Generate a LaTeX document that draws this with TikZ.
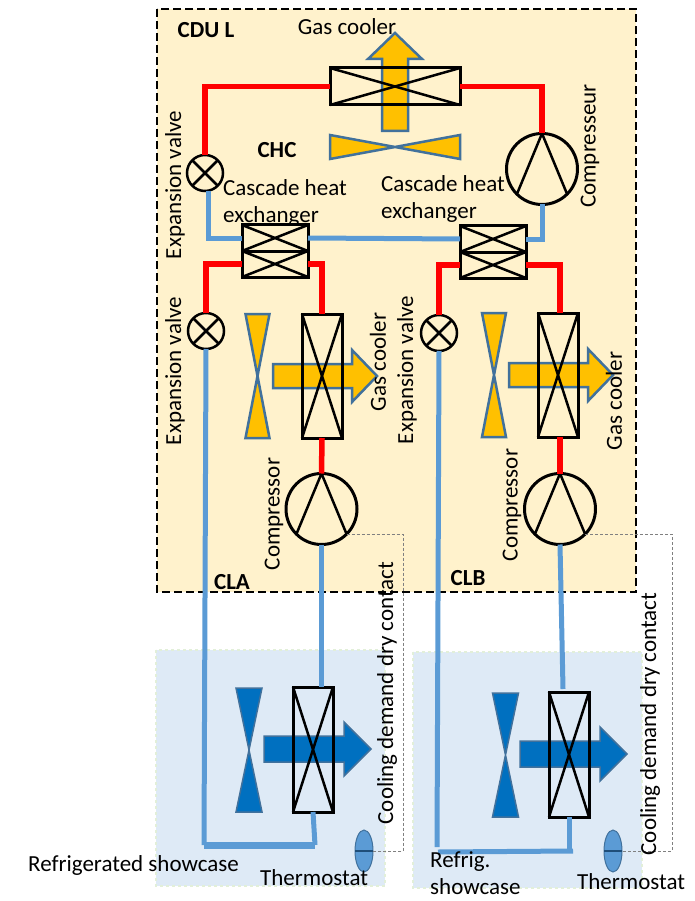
\documentclass[tikz,border=0pt]{standalone}
\usepackage{fontspec}
\setmainfont{Carlito}
\usetikzlibrary{shapes.geometric}
\definecolor{cduback}{HTML}{FFF2CC}
\definecolor{caseback}{HTML}{DEEAF6}
\definecolor{caseline}{HTML}{E2EFD9}
\definecolor{pipeblue}{HTML}{5B9BD5}
\definecolor{hotfill}{HTML}{FFC000}
\definecolor{coldfill}{HTML}{0070C0}
\definecolor{edgeblue}{HTML}{41719C}
\definecolor{thermoline}{HTML}{1F4E79}
\tikzset{
  hotpipe/.style={red,line width=5.5pt},
  coldpipe/.style={pipeblue,line width=5pt},
  signal/.style={gray,densely dashed,line width=0.6pt},
  hxbox/.style={draw=black,line width=3pt,inner sep=0pt,outer sep=0pt},
  rotor/.style={circle,draw=black,line width=3pt,inner sep=0pt,outer sep=0pt,minimum size=71pt},
  valve/.style={circle,draw=black,line width=2.5pt,inner sep=0pt,outer sep=0pt,minimum size=36pt},
  thermo/.style={ellipse,draw=edgeblue,fill=pipeblue,line width=1pt,inner sep=0pt,outer sep=0pt,minimum width=18pt,minimum height=42pt},
  lbl/.style={font=\fontsize{23}{25}\selectfont,inner sep=0pt},
  bold lbl/.style={lbl,font=\fontsize{23}{25}\selectfont\bfseries}
}
\begin{document}
\begin{tikzpicture}[x=1pt,y=-1pt]
    \useasboundingbox (0,0) rectangle (694,901);
    % enclosures
    \fill[cduback] (157,9) rectangle (636,592);
    \draw[black,dash pattern=on 8pt off 4pt,line width=2.5pt] (157,9) rectangle (636,592);
    \foreach \x/\y in {156/650,413/652}
        \draw[caseline,dashed,line width=1.5pt,fill=caseback] (\x,\y) rectangle ++(229,236);
    % fans and air flow, hot side
    \foreach \x/\y in {257.5/376,494/375}
        \filldraw[edgeblue,line width=2.5pt,fill=hotfill] (\x-12,\y-62) -- (\x+12,\y-62) -- (\x-12,\y+62) -- (\x+12,\y+62) -- cycle;
    \foreach \x/\y in {273/376,509/375}
        \filldraw[edgeblue,line width=2.5pt,fill=hotfill] (\x,\y-12) -- ++(79,0) -- ++(0,-14) -- ++(25,26) -- ++(-25,26) -- ++(0,-14) -- ++(-79,0) -- cycle;
    \filldraw[edgeblue,line width=2.5pt,fill=hotfill] (330,135) -- (460,159) -- (460,135) -- (330,159) -- cycle;
    \filldraw[edgeblue,line width=2.5pt,fill=hotfill] (382,131) -- (382,59) -- (368,59) -- (395,33) -- (422,59) -- (408,59) -- (408,131) -- cycle;
    % fans and air flow, cold side
    \foreach \x/\y in {249/750,505.5/755}
        \filldraw[edgeblue,line width=1.5pt,fill=coldfill] (\x-13,\y-62) -- (\x+13,\y-62) -- (\x-13,\y+62) -- (\x+13,\y+62) -- cycle;
    \foreach \x/\y in {264/749,520/754}
        \filldraw[edgeblue,line width=1.5pt,fill=coldfill] (\x,\y-13) -- ++(80,0) -- ++(0,-14) -- ++(27,27) -- ++(-27,27) -- ++(0,-14) -- ++(-80,0) -- cycle;
    % heat exchangers
    \node[hxbox,minimum width=130pt,minimum height=37pt] (gcT) at (395,86.5) {};
    \node[hxbox,minimum width=66pt,minimum height=26pt] (chxLa) at (275,238) {};
    \node[hxbox,minimum width=66pt,minimum height=26pt] (chxLb) at (275,264) {};
    \node[hxbox,minimum width=66pt,minimum height=26pt] (chxRa) at (493,239) {};
    \node[hxbox,minimum width=66pt,minimum height=26pt] (chxRb) at (493,265) {};
    \node[hxbox,minimum width=40pt,minimum height=124pt] (gcA) at (322,376) {};
    \node[hxbox,minimum width=40pt,minimum height=124pt] (gcB) at (558,375) {};
    \node[hxbox,minimum width=40pt,minimum height=125pt] (scA) at (313,749.5) {};
    \node[hxbox,minimum width=40pt,minimum height=125pt] (scB) at (569,754.5) {};
    \foreach \n in {gcT,chxLa,chxLb,chxRa,chxRb,gcA,gcB,scA,scB} {
        \draw[black,line width=2.5pt] (\n.north west) -- (\n.south east);
        \draw[black,line width=2.5pt] (\n.south west) -- (\n.north east);
    }
    % compressors and valves
    \node[rotor] (cpT) at (542,169) {};
    \node[rotor] (cpA) at (321.5,509) {};
    \node[rotor] (cpB) at (560,509) {};
    \foreach \n in {cpT,cpA,cpB} {
        \draw[black,line width=2.5pt] (\n.south west) -- (\n.north) -- (\n.south east);
    }
    \node[valve] (evT) at (205,173) {};
    \node[valve] (evA) at (206,331) {};
    \node[valve] (evB) at (439,333) {};
    \foreach \n in {evT,evA,evB} {
        \draw[black,line width=2.5pt] (\n.north west) -- (\n.south east);
        \draw[black,line width=2.5pt] (\n.south west) -- (\n.north east);
    }
    % red pipes
    \draw[hotpipe] (gcT.west) -| (evT.north);
    \draw[hotpipe] (gcT.east) -| (cpT.north);
    \draw[hotpipe] (chxLb.west) -| (evA.north);
    \draw[hotpipe] (chxLb.east) -| (gcA.north);
    \draw[hotpipe] (chxRb.west) -| (evB.north);
    \draw[hotpipe] (chxRb.east) -| (gcB.north -| cpB.north);
    \draw[hotpipe] (gcA.south) -- (cpA.north);
    \draw[hotpipe] (gcB.south -| cpB.north) -- (cpB.north);
    % blue pipes
    \coordinate (retA) at (204,845);
    \coordinate (retAe) at (315,845);
    \coordinate (retB) at (437,847);
    \coordinate (retBs) at (438,852);
    \coordinate (retBe) at (573,851);
    \coordinate (scBt) at (563,689);
    \draw[coldpipe] ([xshift=3pt]evT.south) |- (chxLa.west);
    \draw[coldpipe] (chxLa.east) -- (chxRa.west);
    \draw[coldpipe] (chxRa.east) -| (cpT.south);
    \draw[coldpipe] (evA.south) -- (retA);
    \draw[coldpipe] (cpA.south) -- (scA.north -| cpA.south);
    \draw[coldpipe,line width=7pt] (retA) -- (retAe);
    \draw[coldpipe] (retAe) -- (scA.south);
    \draw[coldpipe] (evB.south) -- (retB);
    \draw[coldpipe] (cpB.south) -- (scBt);
    \draw[coldpipe,line width=5pt] (retBs) -- (retBe);
    \draw[coldpipe] (scB.south) -- (scB.south |- retBe);
    % thermostats and dry contact
    \node[thermo] (thA) at (364,851) {};
    \node[thermo] (thB) at (613,851) {};
    \coordinate (dcA) at (403,851);
    \coordinate (dcB) at (672,851);
    \foreach \n/\m in {A/dcA,B/dcB} {
        \draw[thermoline,line width=1.5pt] (th\n.west) -- (th\n.east);
        \draw[signal] (cp\n.south east) -| (\m) -- (th\n.east);
    }
    % labels
    \node[bold lbl] (cduL) at (206,30) {CDU L};
    \node[bold lbl] (chcL) at (277,150) {CHC};
    \node[bold lbl] (claL) at (232,582) {CLA};
    \node[bold lbl] (clbL) at (468,578) {CLB};
    \node[lbl] (gcTl) at (347,27) {Gas cooler};
    \node[lbl,anchor=west] (chxLl) at (223,188) {Cascade heat};
    \node[lbl,anchor=west] (chxLm) at (223,216) {exchanger};
    \node[lbl,anchor=west] (chxRl) at (381,184) {Cascade heat};
    \node[lbl,anchor=west] (chxRm) at (381,212) {exchanger};
    \foreach \n/\x/\y/\t in {
        evTl/175/185/Expansion valve,
        evAl/175/371/Expansion valve,
        evBl/407/370/Expansion valve,
        gcAl/378/362/Gas cooler,
        gcBl/614/401/Gas cooler,
        cpTl/590/146/Compresseur,
        cpAl/274/514/Compressor,
        cpBl/512/505/Compressor,
        cdAl/387/693/Cooling demand dry contact,
        cdBl/650/724/Cooling demand dry contact}
            \node[lbl,rotate=90] (\n) at (\x,\y) {\t};
    \node[lbl,anchor=west] (scAl) at (28,865) {Refrigerated showcase};
    \node[lbl,anchor=west] (thAl) at (260,878) {Thermostat};
    \node[lbl,anchor=west] (thBl) at (577,882) {Thermostat};
    \node[lbl,anchor=west] (scBl) at (430,862) {Refrig.};
    \node[lbl,anchor=west] (scBm) at (430,887) {showcase};
\end{tikzpicture}
\end{document}
